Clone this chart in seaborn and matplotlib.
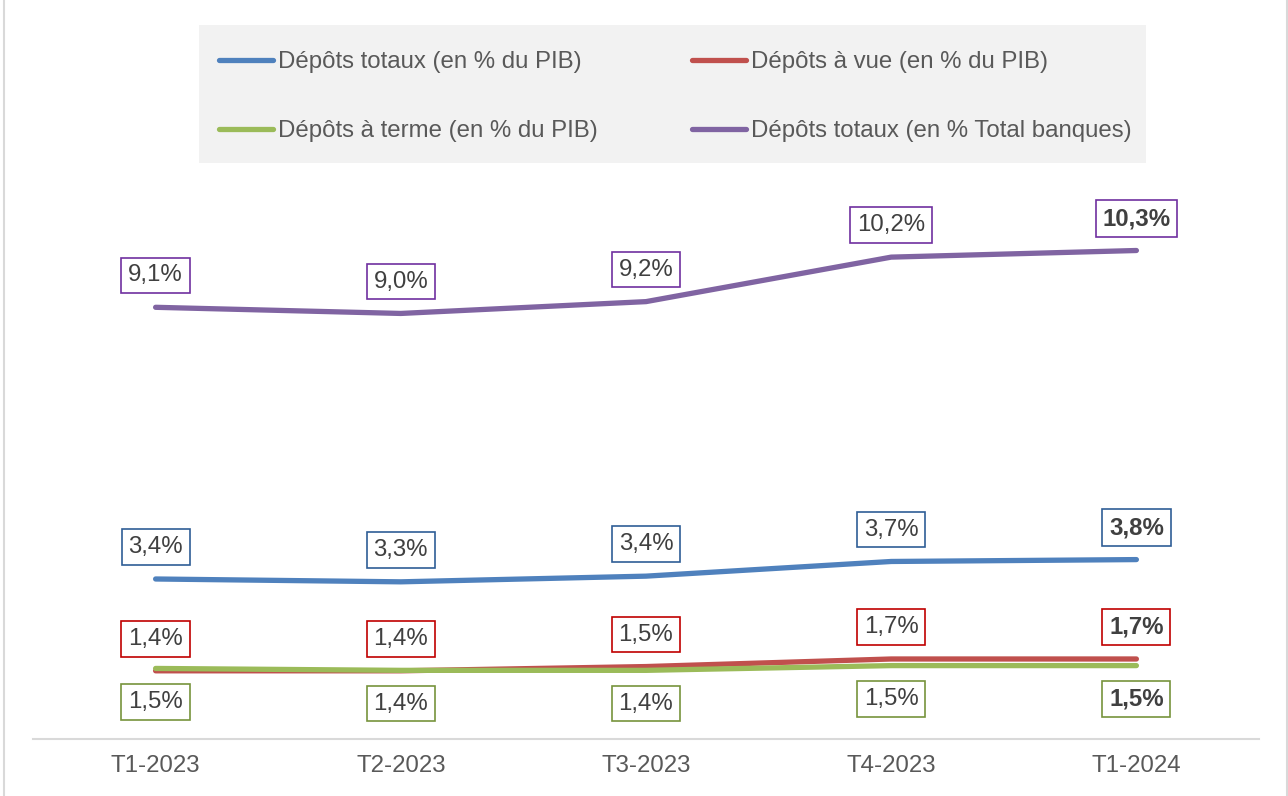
import matplotlib
matplotlib.use("Agg")
import matplotlib.pyplot as plt
import seaborn as sns
from matplotlib.lines import Line2D
from matplotlib.patches import Rectangle

# data
quarters = ["T1-2023", "T2-2023", "T3-2023", "T4-2023", "T1-2024"]
depots_totaux_pib = [3.37, 3.31, 3.43, 3.74, 3.78]
depots_vue_pib = [1.43, 1.43, 1.52, 1.68, 1.68]
depots_terme_pib = [1.48, 1.44, 1.44, 1.54, 1.54]
depots_totaux_banques = [9.11, 8.98, 9.23, 10.17, 10.31]

names = ["Dépôts totaux (en % du PIB)", "Dépôts à vue (en % du PIB)",
         "Dépôts à terme (en % du PIB)", "Dépôts totaux (en % Total banques)"]

sns.set_style("white")
plt.rcParams['font.family'] = ['Liberation Sans', 'DejaVu Sans']

FS = 17.3
line_colors = ["#4F81BD", "#C0504D", "#9BBB59", "#8064A2"]
box_colors = ["#2F5D96", "#C00000", "#77933C", "#7030A0"]
# label offset in points (above / below the line)
offsets = [23, 23, -24, 23]

W, H = 1288, 796
fig = plt.figure(figsize=(W / 100, H / 100), dpi=100)
ax = fig.add_axes([33 / W, 57.5 / H, 1226 / W, 665.5 / H])

series = [depots_totaux_pib, depots_vue_pib, depots_terme_pib, depots_totaux_banques]
for vals, name, col in zip(series, names, line_colors):
    sns.lineplot(x=quarters, y=vals, color=col, lw=3.8, ax=ax,
                 solid_capstyle="round", sort=False)

for vals, col, off in zip(series, box_colors, offsets):
    for i, v in enumerate(vals):
        txt = f"{v:.1f}".replace(".", ",") + "%"
        last = i == len(vals) - 1
        ax.annotate(txt, (i, v), xytext=(0, off), textcoords="offset points",
                    ha="center", va="center", fontsize=FS, color="#404040",
                    fontweight="bold" if last else "normal",
                    bbox=dict(boxstyle="square,pad=0.28", fc="white",
                              ec=col, lw=1.2))

ax.set_xlim(-0.5, 4.5)
ax.set_ylim(0, 14.06)
ax.set_yticks([])
ax.set_xlabel("")
ax.set_ylabel("")
for s in ["left", "right", "top"]:
    ax.spines[s].set_visible(False)
ax.spines["bottom"].set_color("#d9d9d9")
ax.spines["bottom"].set_linewidth(1.5)
ax.tick_params(axis="x", length=0, pad=12, labelsize=FS, labelcolor="#595959")

# legend background box (above the axes patch, below the legend)
fig.add_artist(Rectangle((199 / W, 1 - 163 / H), 947 / W, 138 / H,
                         transform=fig.transFigure, fc="#f2f2f2", ec="none",
                         zorder=1))

# legend, filled column first
handles = [Line2D([], [], color=c, lw=3.8, solid_capstyle="round") for c in line_colors]
order = [0, 2, 1, 3]
leg = fig.legend([handles[k] for k in order], [names[k] for k in order],
                 loc="upper left", ncol=2, mode="expand",
                 bbox_to_anchor=(199 / W, 1 - 169 / H, 953 / W, 138 / H),
                 fontsize=FS, frameon=False, borderpad=0.85,
                 labelspacing=1.95, handlelength=2.25, handletextpad=0.2,
                 borderaxespad=0)
leg.set_zorder(2)
for t in leg.get_texts():
    t.set_color("#595959")

# chart frame edges
fig.add_artist(Line2D([3.5 / W, 3.5 / W], [0, 1], color="#d9d9d9", lw=1.5))
fig.add_artist(Line2D([1286.5 / W, 1286.5 / W], [0, 1], color="#d9d9d9", lw=1.5))

fig.savefig("out.png", dpi=100)
